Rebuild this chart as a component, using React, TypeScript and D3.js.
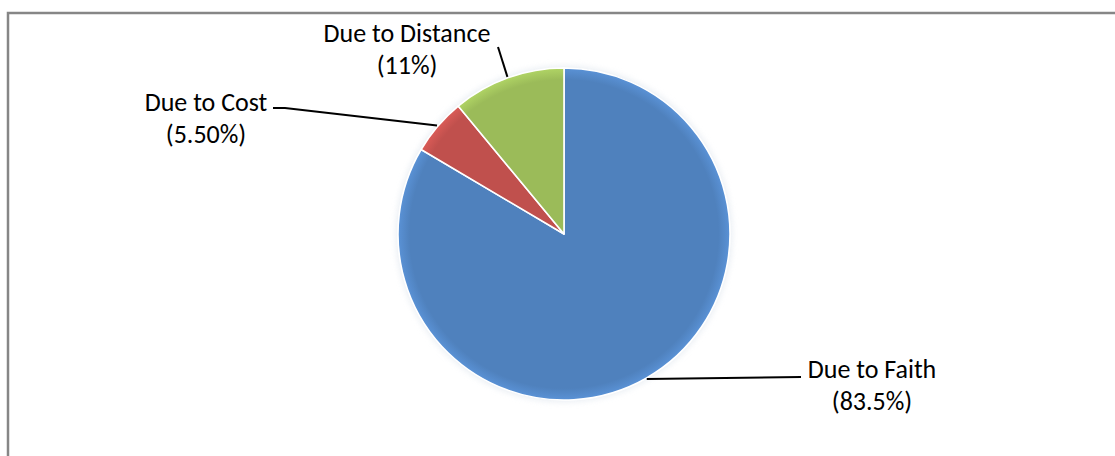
import React from "react";
import * as d3 from "d3";

const categories = ["Due to Faith", "Due to Cost", "Due to Distance"];
const values = [83.5, 5.5, 11];
const valueLabels = ["(83.5%)", "(5.50%)", "(11%)"];
const colors = ["#4F81BD", "#C0504D", "#9BBB59"];

const W = 1115;
const H = 456;
const cx = 564;
const cy = 234;
const R = 166;

// label layout (center x, first baseline y, leader anchor near label)
const labelLayout = [
  { x: 872, y: 378, anchor: [801, 377] as [number, number], elbow: null as null | [number, number] },
  { x: 206, y: 111, anchor: [273, 108] as [number, number], elbow: [285, 108] as [number, number] },
  { x: 407, y: 42, anchor: [498, 47] as [number, number], elbow: null as null | [number, number] },
];

export default function App() {
  const pie = d3.pie<number>().sort(null).value((d) => d);
  const arcs = pie(values);
  const arc = d3.arc<d3.PieArcDatum<number>>().innerRadius(0).outerRadius(R);
  const fontFamily = "Carlito, Calibri, Lato, 'Open Sans', sans-serif";

  return (
    <svg
      width={W}
      height={H}
      style={{ position: "absolute", left: 0, top: 0, background: "#fff" }}
    >
      <defs>
        {colors.map((c, i) => (
          <radialGradient key={i} id={`g${i}`} cx="0" cy="0" r={R} gradientUnits="userSpaceOnUse">
            <stop offset="0%" stopColor={c} />
            <stop offset="93%" stopColor={c} />
            <stop offset="100%" stopColor={d3.color(c)!.brighter(0.35).formatHex()} />
          </radialGradient>
        ))}
        <filter id="soft" x="-20%" y="-20%" width="140%" height="140%">
          <feGaussianBlur stdDeviation="3" />
        </filter>
      </defs>
      <rect x={8} y={13} width={W + 20} height={H + 20} fill="#fff" stroke="#868686" strokeWidth={2.5} />
      <g transform={`translate(${cx},${cy})`}>
        <circle r={R + 2} fill="#dfe6ee" filter="url(#soft)" opacity={0.7} />
        {arcs.map((a, i) => (
          <path
            key={categories[i]}
            d={arc(a) || ""}
            fill={`url(#g${i})`}
            stroke="#ffffff"
            strokeWidth={1.6}
            strokeLinejoin="round"
          />
        ))}
      </g>
      {arcs.map((a, i) => {
        const mid = (a.startAngle + a.endAngle) / 2;
        const px = cx + (R + 1) * Math.sin(mid);
        const py = cy - (R + 1) * Math.cos(mid);
        const L = labelLayout[i];
        const pts: [number, number][] = [L.anchor];
        if (L.elbow) pts.push(L.elbow);
        pts.push([px, py]);
        return (
          <path
            key={"l" + i}
            d={d3.line()(pts) || ""}
            fill="none"
            stroke="#000"
            strokeWidth={2}
          />
        );
      })}
      {labelLayout.map((L, i) => (
        <text
          key={"t" + i}
          x={L.x}
          y={L.y}
          textAnchor="middle"
          fontFamily={fontFamily}
          fontSize={26}
          fill="#000"
        >
          <tspan x={L.x} y={L.y}>{categories[i]}</tspan>
          <tspan x={L.x} y={L.y + 32}>{valueLabels[i]}</tspan>
        </text>
      ))}
    </svg>
  );
}
